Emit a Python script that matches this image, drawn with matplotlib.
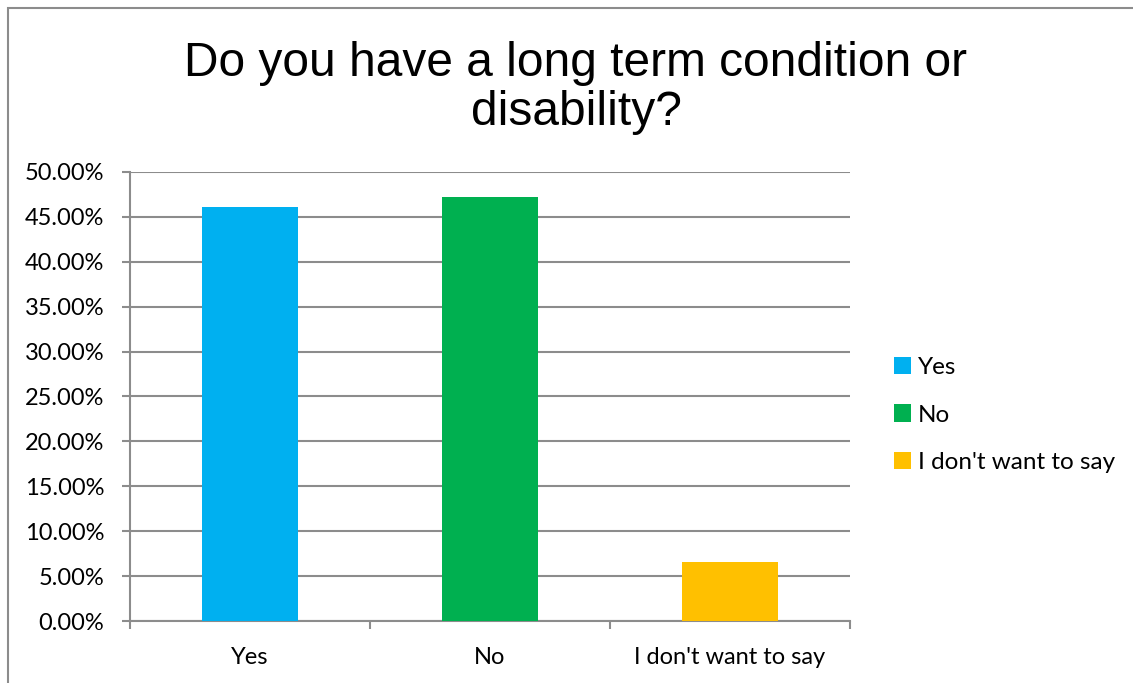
import matplotlib.pyplot as plt
from matplotlib.patches import Rectangle, Patch
from matplotlib.ticker import FuncFormatter, FixedLocator

categories = ["Yes", "No", "I don't want to say"]
values = [46.15, 47.25, 6.59]
colors = ["#00B0F0", "#00B050", "#FFC000"]
yticks = [0, 5, 10, 15, 20, 25, 30, 35, 40, 45, 50]

grey = "#8C8C8C"
label_font = ["Lato", "DejaVu Sans"]

fig = plt.figure(figsize=(11.33, 6.83), dpi=100)
ax = fig.add_axes([130 / 1133, 62 / 683, 720 / 1133, 449 / 683])

x = list(range(len(categories)))
ax.bar(x, values, width=0.4, color=colors, zorder=3)

ax.set_xlim(-0.5, 2.5)
ax.set_ylim(0, 50)
ax.set_yticks(yticks)
ax.yaxis.set_major_formatter(FuncFormatter(lambda v, _: f"{v:.2f}%"))
ax.grid(axis="y", color=grey, linewidth=1.5, zorder=0)

ax.set_xticks(x)
ax.set_xticklabels(categories)
ax.xaxis.set_minor_locator(FixedLocator([-0.5, 0.5, 1.5, 2.5]))
ax.tick_params(axis="x", which="major", length=0, pad=19)
ax.tick_params(axis="x", which="minor", length=6, width=1.5, color=grey)
ax.tick_params(axis="y", length=5.5, width=1.5, color=grey, pad=13)
for lab in ax.get_xticklabels() + ax.get_yticklabels():
    lab.set_fontfamily(label_font)
    lab.set_fontsize(17)
    lab.set_color("black")

for side in ["top", "right"]:
    ax.spines[side].set_visible(False)
for side in ["left", "bottom"]:
    ax.spines[side].set_color(grey)
    ax.spines[side].set_linewidth(1.5)

fig.text(576 / 1133, 1 - 88 / 683, "Do you have a long term condition or\ndisability?",
         ha="center", va="center", fontsize=34.5, family=["Liberation Sans", "DejaVu Sans"],
         linespacing=1.1)

handles = [Patch(facecolor=c, label=l) for c, l in zip(colors, categories)]
fig.legend(handles=handles, loc="center left", bbox_to_anchor=(872 / 1133, 1 - 415 / 683),
           frameon=False, prop={"family": label_font, "size": 17.5},
           handlelength=0.7, handleheight=0.7, handletextpad=0.3, labelspacing=1.1)

fig.patches.append(Rectangle((8 / 1133, -0.1), 1.2, 1 - 8 / 683 + 0.1,
                             transform=fig.transFigure, fill=False,
                             edgecolor=grey, linewidth=1.5))

fig.savefig("out.png", dpi=100)
